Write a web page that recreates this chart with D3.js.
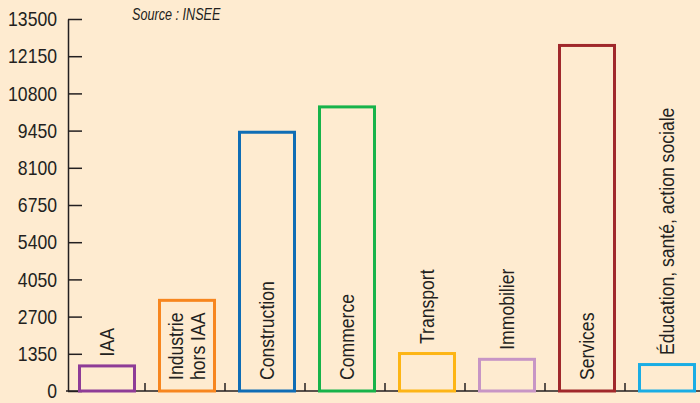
<!DOCTYPE html>
<html><head><meta charset="utf-8">
<script src="https://cdn.jsdelivr.net/npm/d3@7/dist/d3.min.js"></script>
<style>
html,body{margin:0;padding:0;background:#FEEBD0;}
svg{display:block;}
text{font-family:"Liberation Sans Narrow","Arial Narrow","Liberation Sans",Arial,sans-serif;fill:#231F20;}
</style></head><body>
<svg id="chart" width="700" height="403"></svg>
<script>
const categories = ["IAA", "Industrie\nhors IAA", "Construction", "Commerce", "Transport", "Immobilier", "Services", "Éducation, santé, action sociale"];
const values = [910, 3290, 9390, 10310, 1360, 1150, 12540, 960];
const colors = ["#8E3C97", "#F7861F", "#0F6DB5", "#17B34A", "#FDB515", "#C795C5", "#A0282B", "#1AADE4"];
const tickValues = [0, 1350, 2700, 4050, 5400, 6750, 8100, 9450, 10800, 12150, 13500];
const sourceText = "Source : INSEE";

const svg = d3.select("#chart");
const W = 700, H = 403;
svg.append("rect").attr("width", W).attr("height", H).attr("fill", "#FEEBD0");

const x0 = 68, yBase = 391, yTop = 19;
const x = d3.scaleBand().domain(d3.range(categories.length)).range([66, 706]).paddingInner(0).paddingOuter(0);
const y = d3.scaleLinear().domain([0, 13500]).range([yBase, yTop]);

// y axis
const yAxis = d3.axisRight(y).tickValues(tickValues).tickSize(14).tickFormat("").tickSizeOuter(0);
const gy = svg.append("g").attr("transform", `translate(${x0},0)`).call(yAxis);
gy.select(".domain").attr("stroke", "#231F20").attr("stroke-width", 1.5);
gy.selectAll(".tick line").attr("stroke", "#231F20").attr("stroke-width", 1.5);
svg.append("g").selectAll("text").data(tickValues).join("text")
  .attr("transform", d => `translate(57,${y(d)}) scale(0.88,1)`).attr("dy", "0.36em")
  .attr("text-anchor", "end").attr("font-size", 20).text(d => d);

// x axis baseline with inner ticks
svg.append("line").attr("x1", 66).attr("x2", W).attr("y1", yBase).attr("y2", yBase)
  .attr("stroke", "#231F20").attr("stroke-width", 1.5);
const boundaries = d3.range(1, categories.length).map(i => x(i));
svg.append("g").selectAll("line").data(boundaries).join("line")
  .attr("x1", d => d - 1).attr("x2", d => d - 1).attr("y1", yBase).attr("y2", yBase - 8)
  .attr("stroke", "#231F20").attr("stroke-width", 1.5);

// bars
const bw = 55;
svg.append("g").selectAll("rect").data(values).join("rect")
  .attr("x", (d, i) => x(i) + x.bandwidth() / 2 + 1 - bw / 2)
  .attr("y", d => y(d))
  .attr("width", bw)
  .attr("height", d => yBase - y(d))
  .attr("fill", "none")
  .attr("stroke", (d, i) => colors[i])
  .attr("stroke-width", 3);

// labels
const fs = 20, sx = 0.88;
categories.forEach((c, i) => {
  const lines = c.split("\n");
  const cx = x(i) + x.bandwidth() / 2 + 1;
  const g = svg.append("g");
  const t = g.append("text").attr("font-size", fs).attr("text-anchor", "start");
  lines.forEach((l, k) => {
    t.append("tspan").attr("x", 0).attr("y", (k - (lines.length - 1) / 2) * fs * 1.1 + fs * 0.36).text(l);
  });
  const len = sx * d3.max(t.selectAll("tspan").nodes(), n => n.getComputedTextLength());
  const barH = yBase - y(values[i]);
  const startY = (barH > len + 12) ? yBase - 11 : y(values[i]) - 9.5;
  g.attr("transform", `translate(${cx},${startY}) rotate(-90) scale(${sx},1)`);
});

// source
svg.append("text").attr("transform", "translate(132,20) scale(0.79,1)").attr("font-size", 16)
  .attr("font-style", "italic").text(sourceText);
</script>
</body></html>
